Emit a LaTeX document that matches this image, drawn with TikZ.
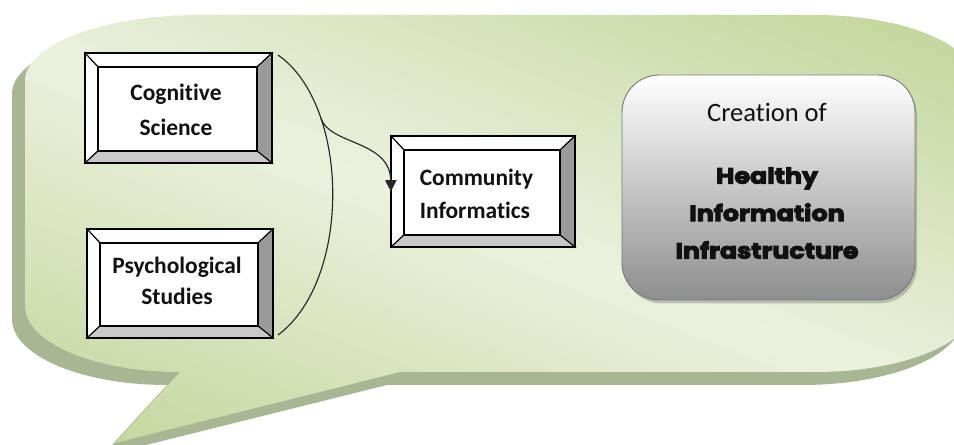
\documentclass[tikz,border=0pt]{standalone}
\usepackage{fontspec}
\setmainfont{Carlito}[Ligatures=NoCommon]
\newfontfamily\heavyfont{Poppins}[FakeStretch=1.15, BoldFeatures={FakeBold=4.5}]
\usetikzlibrary{calc,shadows,arrows.meta}
\definecolor{olivedark}{HTML}{C3D69B}
\definecolor{olivelight}{HTML}{EBF1DE}
\definecolor{oliveshadow}{HTML}{A8B694}
\definecolor{bevelright}{HTML}{9A9A9A}
\definecolor{bevelbottom}{HTML}{C8C8C8}
\definecolor{boxgraybot}{HTML}{8E8E8E}
\definecolor{boxgraymid}{HTML}{D0D0D0}
\definecolor{boxborder}{HTML}{7A7A7A}
\definecolor{inkline}{HTML}{262626}
\definecolor{inktext}{HTML}{111111}
\pgfdeclarelayer{bg}
\pgfsetlayers{bg,main}
\tikzset{
  bevelbox/.style={draw=none, inner sep=0pt, outer sep=0pt},
  face/.style={draw=black, line width=0.8pt, line join=miter},
  outerrim/.style={draw=black, line width=1.1pt},
  boxtext/.style={text=inktext, align=center, inner sep=0pt, font=\bfseries\fontsize{17.6}{26.25}\selectfont},
  connector/.style={draw=inkline, line width=0.85pt},
  creationbox/.style={rounded corners=28pt, draw=boxborder, line width=0.7pt,
    top color=white, middle color=boxgraymid, bottom color=boxgraybot,
    drop shadow={shadow xshift=1.5pt, shadow yshift=-2.5pt, opacity=0.35, fill=black!60},
    inner sep=0pt, outer sep=0pt},
}
\newcommand\bevelfaces[1]{%
  \coordinate (#1-a) at ($(#1.north west)+(13,14)$);
  \coordinate (#1-b) at ($(#1.north east)+(-15,14)$);
  \coordinate (#1-c) at ($(#1.south east)+(-15,-12)$);
  \coordinate (#1-d) at ($(#1.south west)+(13,-12)$);
  \filldraw[face, fill=white] (#1.north west) -- (#1.north east) -- (#1-b) -- (#1-a) -- cycle;
  \filldraw[face, fill=white] (#1.north west) -- (#1-a) -- (#1-d) -- (#1.south west) -- cycle;
  \filldraw[face, fill=bevelright] (#1.north east) -- (#1.south east) -- (#1-c) -- (#1-b) -- cycle;
  \filldraw[face, fill=bevelbottom] (#1.south west) -- (#1-d) -- (#1-c) -- (#1.south east) -- cycle;
  \filldraw[face, fill=white] (#1-a) rectangle (#1-c);
  \draw[outerrim] (#1.north west) rectangle (#1.south east);
}
\begin{document}
\begin{tikzpicture}[x=0.75pt,y=-0.75pt]
\useasboundingbox (0,0) rectangle (954,445);

% callout
\begin{pgfonlayer}{bg}
\begin{scope}
\clip (0,0) rectangle (954,445);
\begin{scope}[shift={(-13,13)}]
\fill[oliveshadow] (25,81) .. controls (25,44.5) and (103.4,15) .. (200,15) -- (815,15)
  .. controls (903.4,15) and (975,44.5) .. (975,81) -- (975,306)
  .. controls (975,342.5) and (903.4,372) .. (815,372) -- (400,372) -- (115,443) -- (180,372)
  .. controls (94.4,372) and (25,342.5) .. (25,306) -- cycle;
\end{scope}
\clip (25,81) .. controls (25,44.5) and (103.4,15) .. (200,15) -- (815,15)
  .. controls (903.4,15) and (975,44.5) .. (975,81) -- (975,306)
  .. controls (975,342.5) and (903.4,372) .. (815,372) -- (400,372) -- (115,443) -- (180,372)
  .. controls (94.4,372) and (25,342.5) .. (25,306) -- cycle;
\foreach \i in {0,...,95} {
  \pgfmathsetmacro\sa{-1.2+\i*0.025}
  \pgfmathsetmacro\sb{\sa+0.028}
  \pgfmathsetmacro\pc{min(100,100*abs(\sa+0.0125)/0.95)}
  \pgfmathsetmacro\ax{493+482*\sa-1156}
  \pgfmathsetmacro\ay{229-214*\sa-444}
  \pgfmathsetmacro\bx{493+482*\sa+1156}
  \pgfmathsetmacro\by{229-214*\sa+444}
  \pgfmathsetmacro\cx{493+482*\sb+1156}
  \pgfmathsetmacro\cy{229-214*\sb+444}
  \pgfmathsetmacro\dx{493+482*\sb-1156}
  \pgfmathsetmacro\dy{229-214*\sb-444}
  \fill[olivedark!\pc!olivelight] (\ax,\ay) -- (\bx,\by) -- (\cx,\cy) -- (\dx,\dy) -- cycle;
}
\end{scope}
\end{pgfonlayer}

% bevel boxes
\node[bevelbox, minimum width=140.25pt, minimum height=82.5pt] (cog) at (178.5,108) {};
\node[bevelbox, minimum width=139.5pt, minimum height=81.75pt] (psy) at (180,283.5) {};
\node[bevelbox, minimum width=138pt, minimum height=83.25pt] (comm) at (483,191.5) {};
\begin{pgfonlayer}{bg}
\bevelfaces{cog}
\bevelfaces{psy}
\bevelfaces{comm}
\end{pgfonlayer}

\node[boxtext] (cogtxt) at (176,109.5) {Cognitive\\Science};
\node[boxtext, font=\bfseries\fontsize{17.6}{23.25}\selectfont] (psytxt) at (177,281) {Psychological\\Studies};
\node[boxtext, align=left, font=\bfseries\fontsize{17.6}{24.75}\selectfont] (commtxt) at (476.5,193.5) {Community\\Informatics};

% creation box
\node[creationbox, minimum width=219.75pt, minimum height=168.75pt] (creation) at (768.5,187.5) {};
\node[text=inktext, inner sep=0pt, font=\fontsize{19.9}{24}\selectfont] (ctitle) at (767,112) {Creation of};
\node[text=inktext, inner sep=0pt, align=center, font=\heavyfont\bfseries\fontsize{16.5}{28.1}\selectfont] (cbody) at (767,213) {Healthy\\Information\\Infrastructure};

% connectors
\draw[connector] ($(cog.north east)+(6,2)$) .. controls (350,105) and (352,280) .. coordinate[pos=0.27] (split) ($(psy.south east)+(5,-3)$);
\draw[connector, -{Triangle[length=8.5pt,width=8.5pt]}] (split) .. controls (329,145) and (390,140) .. (comm.west);
\end{tikzpicture}
\end{document}
